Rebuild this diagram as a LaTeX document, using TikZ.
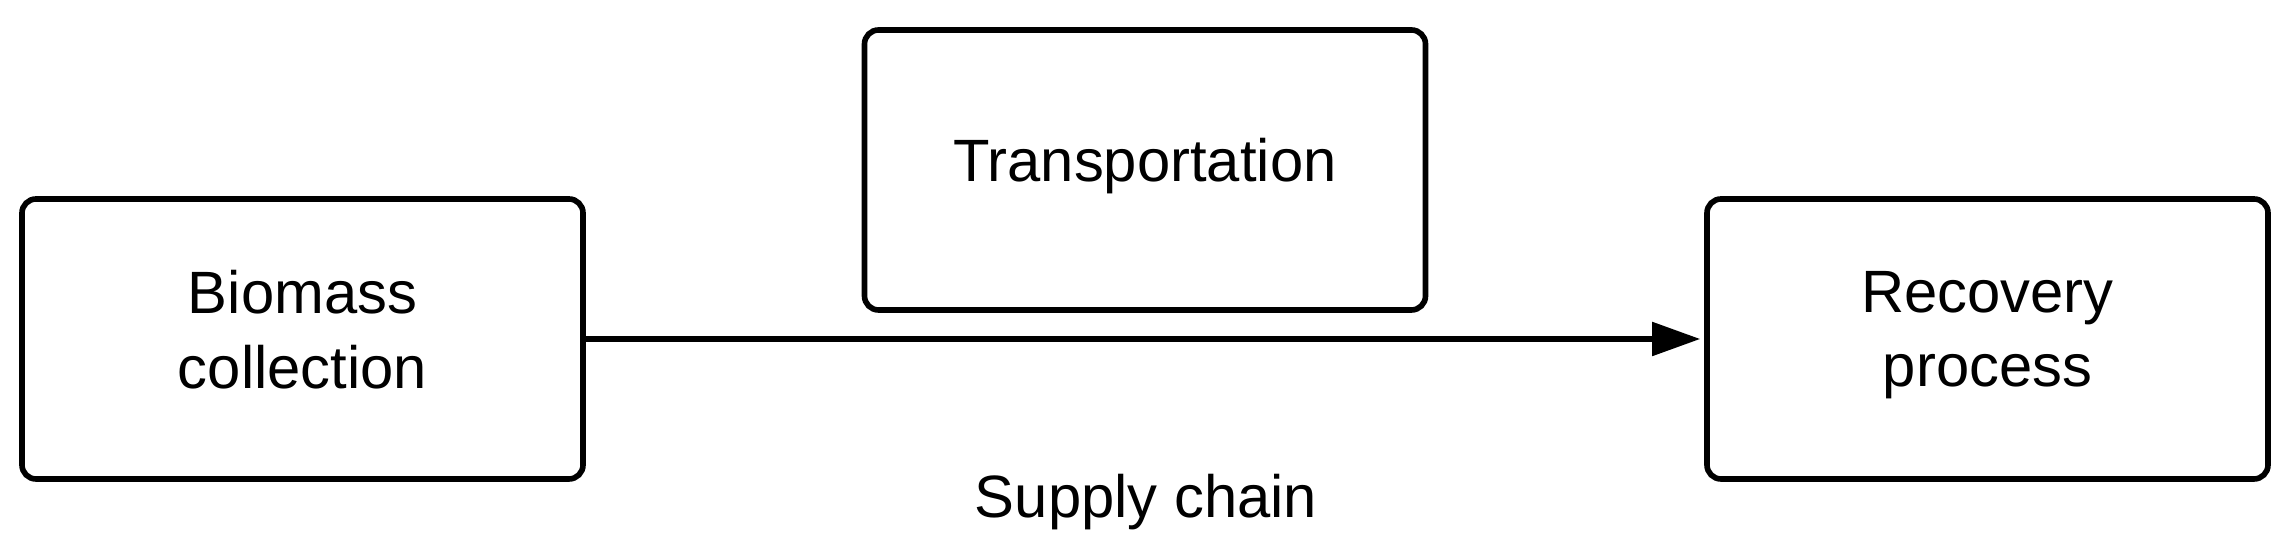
\documentclass[tikz,border=0pt]{standalone}
\usepackage{fontspec}
\setmainfont{Liberation Sans}
\usepackage{tikz}
\usetikzlibrary{arrows.meta}

\begin{document}
\begin{tikzpicture}[
		stagebox/.style={draw, line width=1.6pt, rounded corners=0.14cm, minimum width=5.61cm, minimum height=2.8cm, align=center, text depth=0.2cm, font=\fontsize{17}{21.3}\selectfont},
		flow/.style={line width=1.5pt, -{Triangle[length=0.48cm, width=0.33cm]}, shorten >=0.04cm}
	]
		\useasboundingbox (0, 0) rectangle (22.91, 5.46);
		\foreach \pos/\name/\txt in {(3.025, 2.07)/bio/{Biomass\\collection}, (11.45, 3.76)/trans/{Transportation}, (19.875, 2.07)/rec/{Recovery\\process}}
			\node[stagebox] (\name) at \pos {\txt};
		\draw[flow] (bio.east) -- (rec.west);
		\node[anchor=base, font=\fontsize{17}{21.3}\selectfont] (chain) at (11.46, 0.28) {Supply chain};
	\end{tikzpicture}
\end{document}
